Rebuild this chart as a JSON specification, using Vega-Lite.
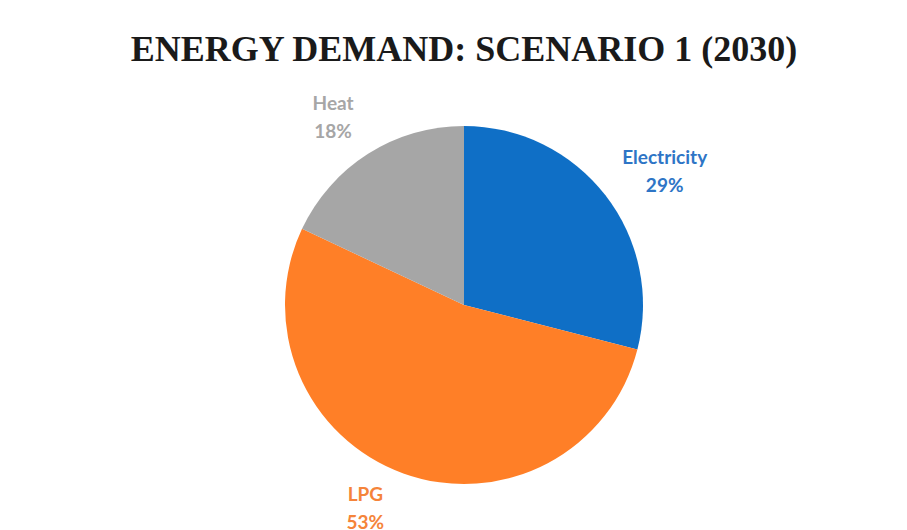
{
  "$schema": "https://vega.github.io/schema/vega-lite/v6.json",
  "autosize": "none",
  "width": 358,
  "height": 358,
  "padding": {"left": 285, "top": 126, "right": 264, "bottom": 46},
  "background": "white",
  "title": {
    "text": "ENERGY DEMAND: SCENARIO 1 (2030)",
    "font": "Liberation Serif",
    "fontSize": 36,
    "fontWeight": "bold",
    "color": "#1a1a1a",
    "anchor": "middle",
    "offset": -2
  },
  "config": {"view": {"stroke": null}},
  "data": {
    "values": [
      {"source": "Electricity", "share": 29, "label": "Electricity\n29%", "idx": 1},
      {"source": "LPG", "share": 53, "label": "LPG\n53%", "idx": 2},
      {"source": "Heat", "share": 18, "label": "Heat\n18%", "idx": 3}
    ]
  },
  "encoding": {
    "theta": {"field": "share", "type": "quantitative", "stack": true},
    "order": {"field": "idx", "type": "quantitative"}
  },
  "layer": [
    {
      "mark": {"type": "arc", "outerRadius": 179},
      "encoding": {
        "color": {
          "field": "source",
          "type": "nominal",
          "scale": {"domain": ["Electricity", "LPG", "Heat"], "range": ["#0F6FC6", "#FF7F27", "#A6A6A6"]},
          "legend": null
        }
      }
    },
    {
      "mark": {"type": "text", "radius": 235, "dx": 15, "dy": -3, "font": "Lato", "fontSize": 19, "fontWeight": "bold", "lineBreak": "\n", "lineHeight": 28, "color": "#2E75C6"},
      "encoding": {
        "text": {"condition": {"test": "datum.source === 'Electricity'", "field": "label"}, "value": ""}
      }
    },
    {
      "mark": {"type": "text", "radius": 235, "dx": -19, "dy": -31, "font": "Lato", "fontSize": 19, "fontWeight": "bold", "lineBreak": "\n", "lineHeight": 28, "color": "#F5843A"},
      "encoding": {
        "text": {"condition": {"test": "datum.source === 'LPG'", "field": "label"}, "value": ""}
      }
    },
    {
      "mark": {"type": "text", "radius": 235, "dx": -5, "dy": -3, "font": "Lato", "fontSize": 19, "fontWeight": "bold", "lineBreak": "\n", "lineHeight": 28, "color": "#A6A6A6"},
      "encoding": {
        "text": {"condition": {"test": "datum.source === 'Heat'", "field": "label"}, "value": ""}
      }
    }
  ]
}
